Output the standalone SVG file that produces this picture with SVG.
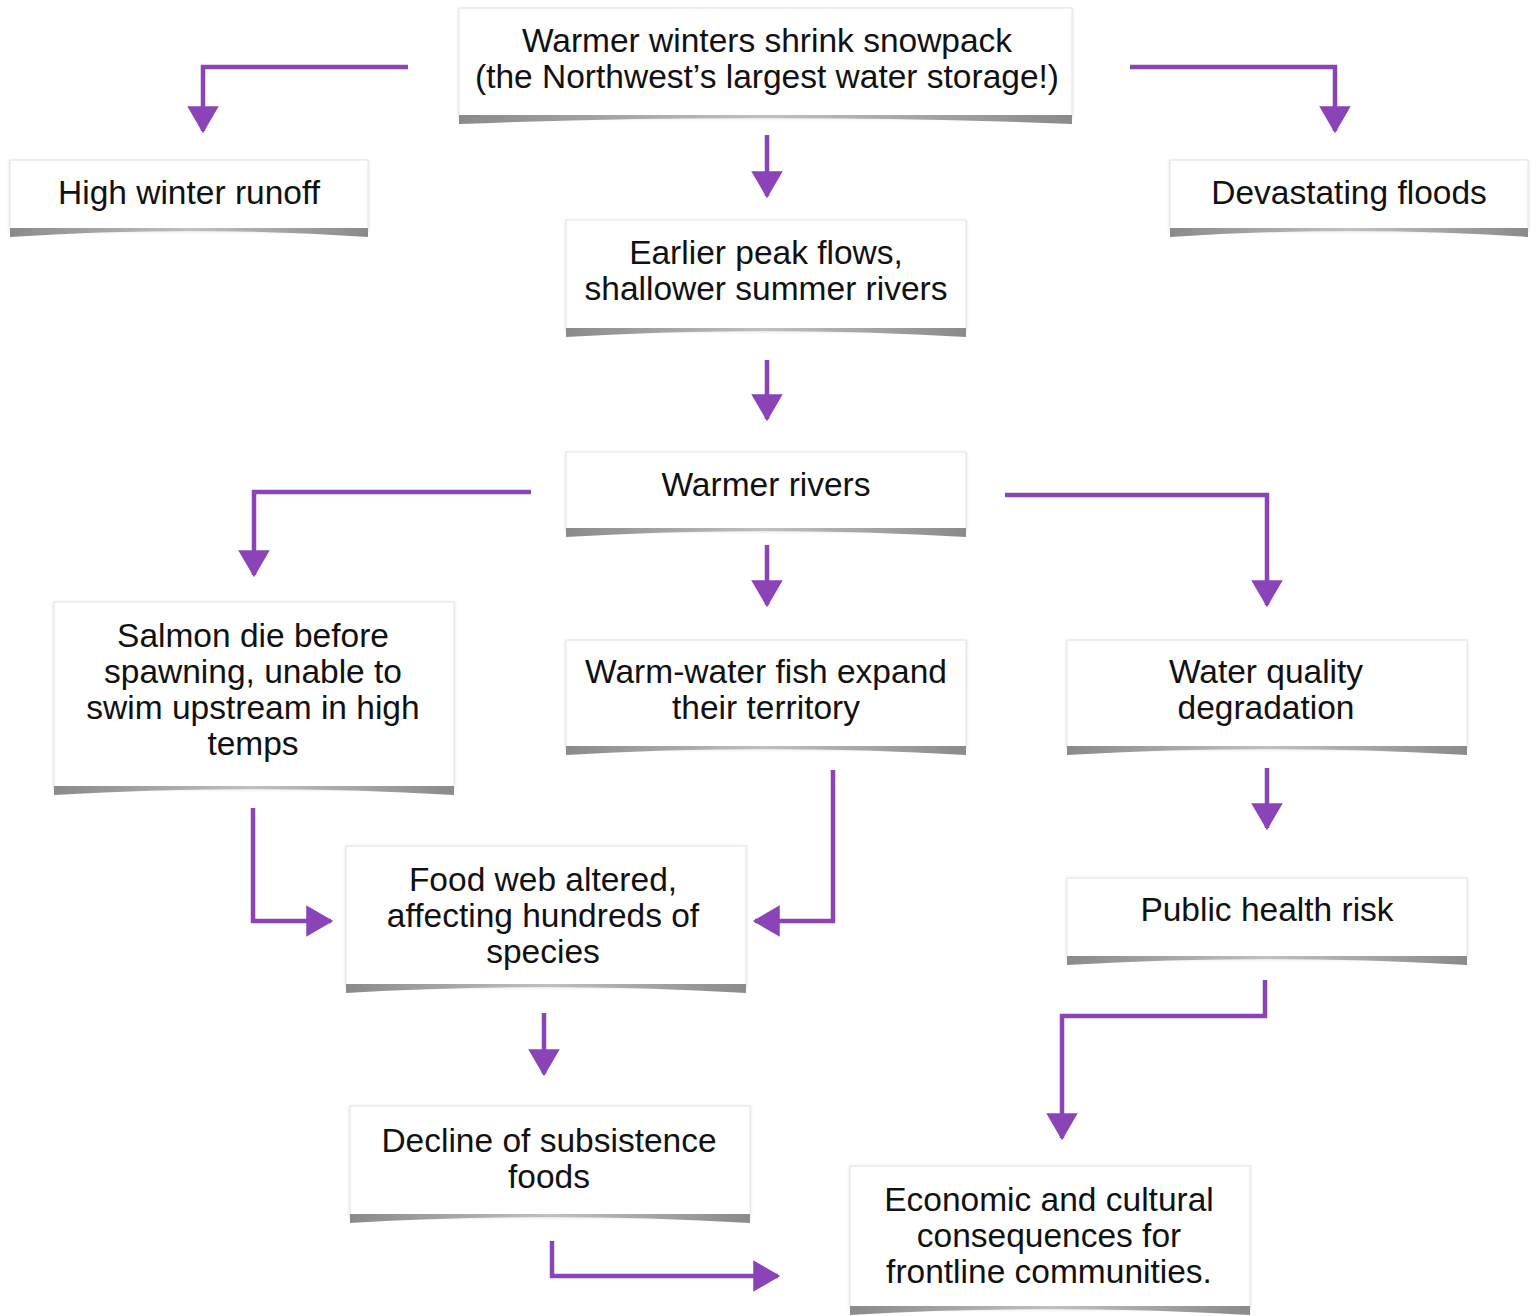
<svg xmlns="http://www.w3.org/2000/svg" width="1538" height="1316" viewBox="0 0 1538 1316">
<defs>
<style>
.box{fill:#ffffff;stroke:#e2e2e2;stroke-width:1}
.sh{fill:url(#shg)}
.t{font-family:"Liberation Sans",Arial,sans-serif;font-size:33.5px;fill:#111111;text-anchor:middle}
.c{fill:none;stroke:#8a44b8;stroke-width:4.5}
</style>
<linearGradient id="shg" x1="0" y1="0" x2="1" y2="0">
<stop offset="0" stop-color="#8a8a8a"/>
<stop offset="0.5" stop-color="#c0c0c0"/>
<stop offset="1" stop-color="#8a8a8a"/>
</linearGradient>
<marker id="ah" markerWidth="7" markerHeight="7" refX="5.5" refY="3.5" orient="auto" markerUnits="strokeWidth">
<path d="M0,0 L6,3.5 L0,7 Z" fill="#8a44b8"/>
</marker>
<filter id="ds" x="-5%" y="-10%" width="110%" height="130%">
<feDropShadow dx="0" dy="1" stdDeviation="1.5" flood-color="#000" flood-opacity="0.15"/>
</filter>
</defs>
<rect width="1538" height="1316" fill="#ffffff"/>

<g id="connectors">
<path class="c" d="M408,67 H203 V131" marker-end="url(#ah)"/>
<path class="c" d="M1130,67 H1335 V131" marker-end="url(#ah)"/>
<path class="c" d="M767,135 V196" marker-end="url(#ah)"/>
<path class="c" d="M767,360 V419" marker-end="url(#ah)"/>
<path class="c" d="M531,492 H254 V575" marker-end="url(#ah)"/>
<path class="c" d="M1005,495 H1267 V605" marker-end="url(#ah)"/>
<path class="c" d="M767,545 V605" marker-end="url(#ah)"/>
<path class="c" d="M253,808 V921 H331" marker-end="url(#ah)"/>
<path class="c" d="M833,770 V921 H755" marker-end="url(#ah)"/>
<path class="c" d="M1267,768 V828" marker-end="url(#ah)"/>
<path class="c" d="M544,1013 V1074" marker-end="url(#ah)"/>
<path class="c" d="M1265,980 V1016 H1062 V1138" marker-end="url(#ah)"/>
<path class="c" d="M552,1241 V1276 H778" marker-end="url(#ah)"/>
</g>

<g id="n1">
<rect class="box" x="459" y="8" width="613" height="109" filter="url(#ds)"/>
<path class="sh" d="M459,115 L1072,115 L1072,124 Q765,112 459,124 Z"/>
<text class="t" x="767" y="52">Warmer winters shrink snowpack</text>
<text class="t" x="767" y="88">(the Northwest’s largest water storage!)</text>
</g>
<g id="n2">
<rect class="box" x="10" y="160" width="358" height="70" filter="url(#ds)"/>
<path class="sh" d="M10,228 L368,228 L368,237 Q189,225 10,237 Z"/>
<text class="t" x="189" y="204">High winter runoff</text>
</g>
<g id="n3">
<rect class="box" x="1170" y="160" width="358" height="70" filter="url(#ds)"/>
<path class="sh" d="M1170,228 L1528,228 L1528,237 Q1349,225 1170,237 Z"/>
<text class="t" x="1349" y="204">Devastating floods</text>
</g>
<g id="n4">
<rect class="box" x="566" y="220" width="400" height="110" filter="url(#ds)"/>
<path class="sh" d="M566,328 L966,328 L966,337 Q766,325 566,337 Z"/>
<text class="t" x="766" y="264">Earlier peak flows,</text>
<text class="t" x="766" y="300">shallower summer rivers</text>
</g>
<g id="n5">
<rect class="box" x="566" y="452" width="400" height="78" filter="url(#ds)"/>
<path class="sh" d="M566,528 L966,528 L966,537 Q766,525 566,537 Z"/>
<text class="t" x="766" y="496">Warmer rivers</text>
</g>
<g id="n6">
<rect class="box" x="54" y="602" width="400" height="186" filter="url(#ds)"/>
<path class="sh" d="M54,786 L454,786 L454,795 Q254,783 54,795 Z"/>
<text class="t" x="253" y="647">Salmon die before</text>
<text class="t" x="253" y="683">spawning, unable to</text>
<text class="t" x="253" y="719">swim upstream in high</text>
<text class="t" x="253" y="755">temps</text>
</g>
<g id="n7">
<rect class="box" x="566" y="640" width="400" height="108" filter="url(#ds)"/>
<path class="sh" d="M566,746 L966,746 L966,755 Q766,743 566,755 Z"/>
<text class="t" x="766" y="683">Warm-water fish expand</text>
<text class="t" x="766" y="719">their territory</text>
</g>
<g id="n8">
<rect class="box" x="1067" y="640" width="400" height="108" filter="url(#ds)"/>
<path class="sh" d="M1067,746 L1467,746 L1467,755 Q1267,743 1067,755 Z"/>
<text class="t" x="1266" y="683">Water quality</text>
<text class="t" x="1266" y="719">degradation</text>
</g>
<g id="n9">
<rect class="box" x="346" y="846" width="400" height="140" filter="url(#ds)"/>
<path class="sh" d="M346,984 L746,984 L746,993 Q546,981 346,993 Z"/>
<text class="t" x="543" y="891">Food web altered,</text>
<text class="t" x="543" y="927">affecting hundreds of</text>
<text class="t" x="543" y="963">species</text>
</g>
<g id="n10">
<rect class="box" x="1067" y="878" width="400" height="80" filter="url(#ds)"/>
<path class="sh" d="M1067,956 L1467,956 L1467,965 Q1267,953 1067,965 Z"/>
<text class="t" x="1267" y="921">Public health risk</text>
</g>
<g id="n11">
<rect class="box" x="350" y="1106" width="400" height="110" filter="url(#ds)"/>
<path class="sh" d="M350,1214 L750,1214 L750,1223 Q550,1211 350,1223 Z"/>
<text class="t" x="549" y="1152">Decline of subsistence</text>
<text class="t" x="549" y="1188">foods</text>
</g>
<g id="n12">
<rect class="box" x="850" y="1166" width="400" height="142" filter="url(#ds)"/>
<path class="sh" d="M850,1306 L1250,1306 L1250,1315 Q1050,1303 850,1315 Z"/>
<text class="t" x="1049" y="1211">Economic and cultural</text>
<text class="t" x="1049" y="1247">consequences for</text>
<text class="t" x="1049" y="1283">frontline communities.</text>
</g>
</svg>
